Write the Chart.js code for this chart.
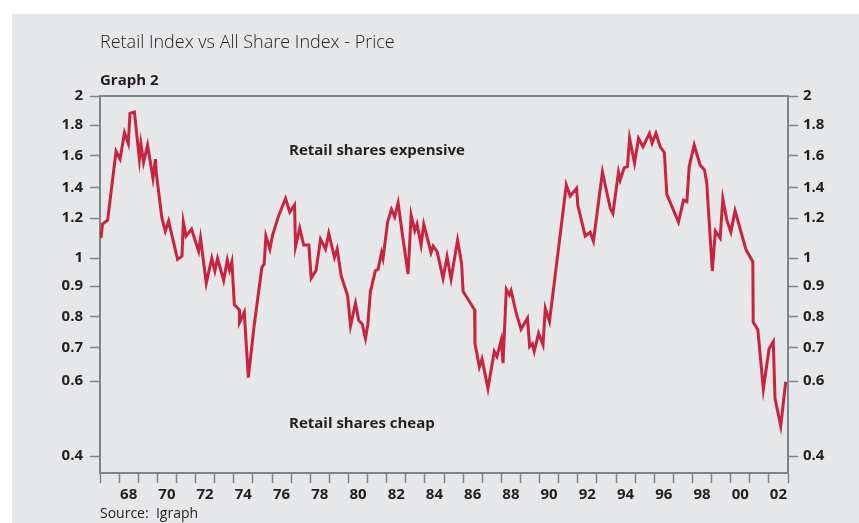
<!DOCTYPE html>
<html>
<head>
<meta charset="utf-8">
<script src="https://cdn.jsdelivr.net/npm/chart.js@4.4.1/dist/chart.umd.min.js"></script>
<style>
html, body { margin: 0; padding: 0; background: #fff; }
canvas { display: block; }
</style>
</head>
<body>
<canvas id="graph2" width="859" height="523"></canvas>
<script>
// retail index relative to all share index
var years = [
    1967.05, 1967.13, 1967.40, 1967.84, 1968.05, 1968.28, 1968.48, 1968.57, 1968.80, 1969.06,
    1969.14, 1969.28, 1969.49, 1969.77, 1969.90, 1969.95, 1970.24, 1970.42, 1970.59, 1971.06,
    1971.29, 1971.36, 1971.50, 1971.79, 1972.16, 1972.26, 1972.56, 1972.85, 1973.01, 1973.15,
    1973.47, 1973.66, 1973.78, 1973.90, 1974.03, 1974.29, 1974.30, 1974.55, 1974.76, 1975.07,
    1975.47, 1975.59, 1975.68, 1975.89, 1976.03, 1976.36, 1976.71, 1976.93, 1977.18, 1977.23,
    1977.45, 1977.66, 1977.93, 1978.05, 1978.31, 1978.54, 1978.80, 1978.97, 1979.27, 1979.41,
    1979.62, 1979.96, 1980.11, 1980.37, 1980.54, 1980.72, 1980.89, 1981.01, 1981.15, 1981.41,
    1981.55, 1981.73, 1981.81, 1982.05, 1982.25, 1982.42, 1982.60, 1982.84, 1983.12, 1983.28,
    1983.47, 1983.59, 1983.80, 1983.94, 1984.11, 1984.32, 1984.43, 1984.64, 1984.95, 1985.16,
    1985.37, 1985.71, 1985.92, 1986.00, 1986.34, 1986.60, 1986.62, 1986.85, 1986.99, 1987.30,
    1987.63, 1987.77, 1988.00, 1988.09, 1988.26, 1988.42, 1988.51, 1988.78, 1989.03, 1989.37,
    1989.48, 1989.62, 1989.72, 1989.95, 1990.18, 1990.30, 1990.52, 1991.40, 1991.60, 1991.94,
    1992.00, 1992.39, 1992.65, 1992.82, 1993.29, 1993.70, 1993.84, 1994.13, 1994.22, 1994.43,
    1994.60, 1994.71, 1994.97, 1995.18, 1995.41, 1995.75, 1995.89, 1996.09, 1996.31, 1996.53,
    1996.66, 1997.27, 1997.53, 1997.71, 1997.83, 1998.09, 1998.40, 1998.63, 1998.75, 1999.04,
    1999.20, 1999.45, 1999.59, 1999.80, 2000.01, 2000.23, 2000.81, 2001.16, 2001.18, 2001.42,
    2001.71, 2002.01, 2002.23, 2002.32, 2002.62, 2002.88
];
var ratio = [
    1.10, 1.17, 1.19, 1.63, 1.58, 1.75, 1.68, 1.88, 1.89, 1.58,
    1.68, 1.56, 1.67, 1.46, 1.58, 1.49, 1.20, 1.135, 1.185, 0.995,
    1.01, 1.18, 1.11, 1.145, 1.035, 1.10, 0.91, 1.00, 0.954, 0.999,
    0.92, 0.993, 0.957, 0.987, 0.839, 0.823, 0.782, 0.815, 0.61, 0.774,
    0.967, 0.978, 1.11, 1.045, 1.115, 1.22, 1.33, 1.24, 1.287, 1.057,
    1.15, 1.065, 1.065, 0.928, 0.957, 1.095, 1.045, 1.124, 1.003, 1.045,
    0.936, 0.868, 0.771, 0.844, 0.788, 0.777, 0.731, 0.774, 0.882, 0.955,
    0.96, 1.027, 0.999, 1.18, 1.258, 1.209, 1.302, 1.107, 0.943, 1.22,
    1.137, 1.17, 1.065, 1.169, 1.107, 1.027, 1.06, 1.032, 0.928, 1.007,
    0.925, 1.09, 0.981, 0.882, 0.849, 0.823, 0.715, 0.642, 0.666, 0.58,
    0.689, 0.674, 0.726, 0.654, 0.889, 0.871, 0.885, 0.812, 0.76, 0.796,
    0.704, 0.713, 0.689, 0.747, 0.71, 0.828, 0.785, 1.419, 1.347, 1.398,
    1.287, 1.11, 1.13, 1.085, 1.50, 1.265, 1.231, 1.498, 1.45, 1.527,
    1.533, 1.714, 1.554, 1.714, 1.66, 1.746, 1.682, 1.746, 1.66, 1.621,
    1.358, 1.18, 1.32, 1.309, 1.533, 1.671, 1.544, 1.513, 1.429, 0.954,
    1.135, 1.10, 1.327, 1.19, 1.13, 1.249, 1.04, 0.987, 0.783, 0.759,
    0.579, 0.697, 0.72, 0.554, 0.48, 0.598
];
var yTicks = [0.4, 0.6, 0.7, 0.8, 0.9, 1, 1.2, 1.4, 1.6, 1.8, 2];
var xLabels = ["68", "70", "72", "74", "76", "78", "80", "82", "84", "86",
               "88", "90", "92", "94", "96", "98", "00", "02"];

var ink = "#231f20";
var axisGrey = "#7b868c";
var panel = "#e6e7e8";
var red = "#c8243f";

// the printed y axis is not a clean log scale, every gap between the
// labelled values has its own height, so the scale maps value -> height piecewise
var axisStops   = [0.355, 0.4, 0.6, 0.7, 0.8, 0.9, 1, 1.2, 1.4, 1.6, 1.8, 2];
var axisHeights = [0, 0.045, 0.244, 0.332, 0.414, 0.496, 0.570, 0.676, 0.756, 0.841, 0.923, 1];

function interp(xs, ys, v) {
    var i = 1;
    while (i < xs.length - 1 && v > xs[i]) i++;
    var t = (v - xs[i - 1]) / (xs[i] - xs[i - 1]);
    return ys[i - 1] + t * (ys[i] - ys[i - 1]);
}

class RatioScale extends Chart.LinearScale {
    getPixelForValue(value) {
        if (value === null || value === undefined) return NaN;
        return this.getPixelForDecimal(interp(axisStops, axisHeights, value));
    }
    getValueForPixel(pixel) {
        return interp(axisHeights, axisStops, this.getDecimalForPixel(pixel));
    }
}
RatioScale.id = "ratio";
RatioScale.defaults = Chart.LinearScale.defaults;
Chart.register(RatioScale);

var tickFont = { family: "'Open Sans', sans-serif", size: 15, weight: "bold" };

function yAxis(side, width, pad) {
    return {
        type: "ratio",
        position: side,
        min: 0.355,
        max: 2,
        afterBuildTicks: function (s) { s.ticks = yTicks.map(function (v) { return { value: v }; }); },
        afterFit: function (s) { s.width = width; },
        grid: { drawOnChartArea: false, tickLength: 10, color: axisGrey, tickWidth: 1.5 },
        border: { color: axisGrey, width: 2 },
        ticks: {
            autoSkip: false,
            padding: pad,
            color: ink,
            font: tickFont,
            callback: function (v) { return String(v); }
        }
    };
}

var page = {
    id: "page",
    beforeDraw: function (chart) {
        var c = chart.ctx;
        c.save();
        c.fillStyle = "#fff";
        c.fillRect(0, 0, chart.width, chart.height);
        c.fillStyle = panel;
        c.fillRect(12, 14, chart.width - 12, chart.height - 14);
        c.restore();
    },
    afterDraw: function (chart) {
        var c = chart.ctx;
        c.save();
        c.fillStyle = ink;
        c.textAlign = "left";
        c.textBaseline = "alphabetic";
        c.font = "300 18px 'Open Sans'";
        c.fillText("Retail Index vs All Share Index - Price", 100, 48);
        c.font = "bold 15px 'Open Sans'";
        c.fillText("Graph 2", 100, 85);
        c.fillText("Retail shares expensive", 289, 155);
        c.fillText("Retail shares cheap", 289, 428);
        c.font = "14px 'Open Sans'";
        c.fillText("Source:  Igraph", 100, 518);
        c.restore();
    }
};

new Chart(document.getElementById("graph2"), {
    type: "line",
    data: {
        datasets: [{
            label: "Retail vs All Share",
            data: years.map(function (x, i) { return { x: x, y: ratio[i] }; }),
            borderColor: red,
            borderWidth: 3,
            pointRadius: 0,
            tension: 0,
            fill: false
        }]
    },
    options: {
        responsive: false,
        animation: false,
        devicePixelRatio: 1,
        layout: { padding: { top: 96, left: 0, right: 0, bottom: 0 } },
        plugins: { legend: { display: false }, tooltip: { enabled: false } },
        scales: {
            x: {
                type: "linear",
                position: "bottom",
                min: 1967,
                max: 2003,
                afterBuildTicks: function (s) {
                    var t = [];
                    for (var yr = 1967; yr <= 2003; yr++) t.push({ value: yr });
                    s.ticks = t;
                },
                afterFit: function (s) { s.height = 50; },
                grid: { drawOnChartArea: false, tickLength: 10, color: axisGrey, tickWidth: 1.5 },
                border: { color: axisGrey, width: 2 },
                ticks: {
                    autoSkip: false,
                    maxRotation: 0,
                    labelOffset: 9.56,
                    padding: 3,
                    color: ink,
                    font: tickFont,
                    callback: function (v) { return v % 2 === 0 ? xLabels[(v - 1968) / 2] : ""; }
                }
            },
            xTop: {
                type: "linear",
                position: "top",
                min: 1967,
                max: 2003,
                grid: { display: false },
                border: { color: axisGrey, width: 2 },
                ticks: { display: false },
                afterFit: function (s) { s.height = 0; }
            },
            y: yAxis("left", 100, 7),
            y2: yAxis("right", 71, 5)
        }
    },
    plugins: [page]
});
</script>
</body>
</html>
